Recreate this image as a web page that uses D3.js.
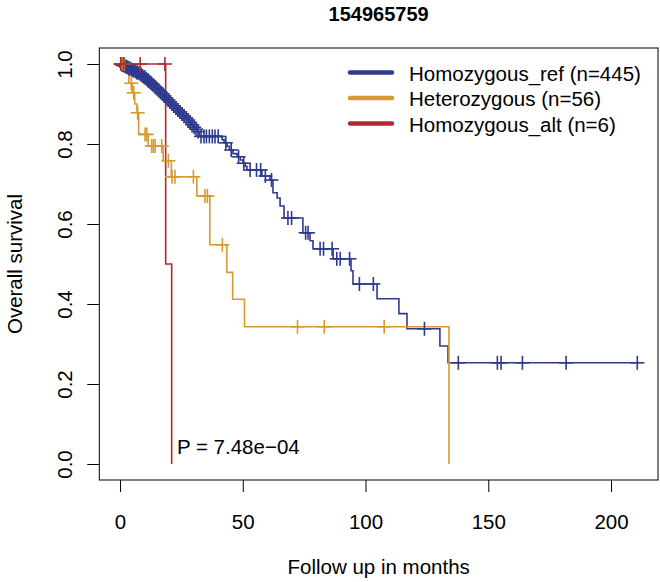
<!DOCTYPE html>
<html>
<head>
<meta charset="utf-8">
<script src="https://cdn.jsdelivr.net/npm/d3@7"></script>
<style>
  html, body { margin: 0; padding: 0; background: #fff; }
  svg { display: block; font-family: "Liberation Sans", Arial, Helvetica, sans-serif; }
</style>
</head>
<body>
<svg id="chart" width="660" height="582"></svg>
<script>
// ---------- DATA ----------
const chartTitle = "154965759";
const groupLabels = ["Homozygous_ref (n=445)", "Heterozygous (n=56)", "Homozygous_alt (n=6)"];
const groupColors = ["#2E3A8C", "#D69A30", "#B22A30"];

// Homozygous_ref: step times (months) and survival after each step
const refTimes = [0, 0.5, 1.2, 2.0, 2.8, 3.5, 4.3, 5.0, 5.8, 6.5, 7.3, 8.0, 8.8, 9.5, 10.3, 11.0, 11.8, 12.5, 13.3, 14.0,
  14.8, 15.5, 16.3, 17.0, 17.8, 18.5, 19.3, 20.0, 20.8, 21.6, 22.4, 23.2, 24.0, 24.8, 25.7, 26.5, 27.3, 28.2, 29.0, 29.8,
  30.6, 31.4, 32.3, 41.6, 42.4, 43.6, 44.6, 46.0, 47.7, 49.0, 50.1, 51.0, 51.7, 57.8, 61.1, 62.3, 64.0, 65.2, 66.8, 74.5,
  77.4, 78.6, 86.8, 94.1, 94.9, 104.7, 113.6, 116.9, 130.3, 133.6];
const refSurv = [1, 0.998, 0.996, 0.993, 0.991, 0.989, 0.987, 0.984, 0.982, 0.979, 0.977, 0.974, 0.970, 0.967, 0.963, 0.959, 0.955, 0.951, 0.947, 0.942,
  0.938, 0.934, 0.929, 0.925, 0.920, 0.915, 0.910, 0.905, 0.900, 0.895, 0.890, 0.885, 0.880, 0.875, 0.870, 0.865, 0.860, 0.854, 0.848, 0.842,
  0.837, 0.831, 0.819, 0.811, 0.803, 0.794, 0.785, 0.776, 0.768, 0.760, 0.752, 0.744, 0.735, 0.720, 0.710, 0.678, 0.665, 0.645, 0.615, 0.578,
  0.558, 0.538, 0.513, 0.483, 0.450, 0.413, 0.376, 0.338, 0.295, 0.253];
const refCensor = [0.3, 0.8, 1.0, 1.5, 1.9, 2.4, 2.7, 3.2, 3.7, 4.0, 4.6, 5.2, 5.6, 6.2, 6.8, 7.1, 7.7, 8.4, 8.6, 9.2,
  9.8, 10.1, 10.7, 11.3, 11.6, 12.2, 12.9, 13.6, 14.4, 15.1, 15.9, 16.6, 17.4, 18.1, 18.9, 19.7, 20.4, 21.2, 22.0, 22.8,
  23.6, 24.4, 25.3, 26.1, 27.0, 27.8, 28.6, 29.4, 30.2, 31.0, 31.8, 33.0, 34.2, 35.2, 36.4, 37.6, 38.7, 40.0, 43.1, 45.3,
  48.3, 50.4, 53.0, 55.6, 57.3, 59.2, 61.7, 68.4, 69.9, 75.6, 76.6, 81.5, 82.9, 86.4, 88.3, 89.7, 93.5, 97.5, 103.2, 124.0,
  137.8, 153.7, 155.2, 163.9, 181.7, 210.7];

// Heterozygous
const hetTimes = [0, 2.6, 3.6, 5.0, 6.0, 6.9, 7.6, 11.5, 17.6, 20.9, 31.3, 36.6, 43.5, 45.9, 50.7, 134.0];
const hetSurv  = [1, 0.982, 0.952, 0.928, 0.900, 0.878, 0.824, 0.795, 0.758, 0.718, 0.670, 0.548, 0.479, 0.412, 0.343, 0];
const hetCensor = [0.8, 1.8, 4.6, 5.6, 7.2, 10.2, 10.9, 12.9, 13.6, 14.3, 17.0, 19.7, 21.2, 22.4, 29.9, 34.6, 35.6, 41.7, 72.3, 83.2, 107.6];

// Homozygous_alt
const altTimes = [0, 18.6, 21.05];
const altSurv  = [1, 0.5, 0];
const altCensor = [0.3, 1.5, 8.2, 18.3];

const xTicks = [0, 50, 100, 150, 200];
const yTicks = [0, 0.2, 0.4, 0.6, 0.8, 1.0];
const xLabel = "Follow up in months";
const yLabel = "Overall survival";
const pText = "P = 7.48e\u221204";
const pPos = [23.2, 0.043];

// ---------- BUILD ----------
const groups = [
  {times: refTimes, surv: refSurv, censor: refCensor},
  {times: hetTimes, surv: hetSurv, censor: hetCensor},
  {times: altTimes, surv: altSurv, censor: altCensor}
];
groups.forEach((g, i) => {
  g.label = groupLabels[i];
  g.color = groupColors[i];
  g.end = Math.max(g.times[g.times.length - 1], d3.max(g.censor));
});
const xMax = d3.max(groups, g => g.end);

const svg = d3.select("#chart");
const W = 660, H = 582;
const box = {left: 99.3, right: 658, top: 48, bottom: 480};

const x = d3.scaleLinear().domain([-0.04 * xMax, 1.04 * xMax]).range([box.left, box.right]);
const y = d3.scaleLinear().domain([-0.04, 1.04]).range([box.bottom, box.top]);

const FS = 20.5;

// title
svg.append("text")
  .attr("x", (box.left + box.right) / 2).attr("y", 21)
  .attr("text-anchor", "middle").attr("font-weight", "bold").attr("font-size", 20)
  .text(chartTitle);

// box
svg.append("rect")
  .attr("x", box.left).attr("y", box.top)
  .attr("width", box.right - box.left).attr("height", box.bottom - box.top)
  .attr("fill", "none").attr("stroke", "#000").attr("stroke-width", 1);

// x axis
const xAxis = svg.append("g")
  .attr("transform", `translate(0,${box.bottom})`)
  .call(d3.axisBottom(x).tickValues(xTicks).tickSize(12).tickPadding(22).tickFormat(d3.format("d")));
xAxis.select(".domain").remove();
xAxis.selectAll("line").attr("stroke", "#000");
xAxis.selectAll("text").attr("font-size", FS).attr("font-family", "Liberation Sans, Arial, sans-serif").attr("fill", "#000");

// y axis (ticks via axis, labels rotated like R)
const yAxis = svg.append("g")
  .attr("transform", `translate(${box.left},0)`)
  .call(d3.axisLeft(y).tickValues(yTicks).tickSize(12).tickFormat(d3.format(".1f")));
yAxis.select(".domain").remove();
yAxis.selectAll("line").attr("stroke", "#000");
yAxis.selectAll("text")
  .attr("x", null).attr("dy", null)
  .attr("text-anchor", "middle")
  .attr("font-size", FS).attr("font-family", "Liberation Sans, Arial, sans-serif").attr("fill", "#000")
  .attr("transform", `translate(${71.7 - box.left},0) rotate(-90)`);

// axis titles
svg.append("text")
  .attr("x", (box.left + box.right) / 2).attr("y", 574)
  .attr("text-anchor", "middle").attr("font-size", FS)
  .text(xLabel);
svg.append("text")
  .attr("transform", `translate(22,${(box.top + box.bottom) / 2}) rotate(-90)`)
  .attr("text-anchor", "middle").attr("font-size", FS)
  .text(yLabel);

// survival at time t (right-continuous step)
function survAt(g, t) {
  let s = 1;
  for (let i = 0; i < g.times.length; i++) { if (g.times[i] <= t) s = g.surv[i]; }
  return s;
}

// curves
const plotG = svg.append("g");
groups.forEach(g => {
  const pts = g.times.map((t, i) => [t, g.surv[i]]);
  const lastS = g.surv[g.surv.length - 1];
  if (g.end > g.times[g.times.length - 1]) pts.push([g.end, lastS]);
  const line = d3.line().x(d => x(d[0])).y(d => y(d[1])).curve(d3.curveStepAfter);
  plotG.append("path")
    .attr("d", line(pts))
    .attr("fill", "none").attr("stroke", g.color).attr("stroke-width", 1.6);
});
// censor marks
const cs = 7;
groups.forEach(g => {
  const cg = plotG.append("g").attr("stroke", g.color).attr("stroke-width", 1.6);
  g.censor.forEach(t => {
    const cx = x(t), cy = y(survAt(g, t));
    cg.append("line").attr("x1", cx - cs).attr("x2", cx + cs).attr("y1", cy).attr("y2", cy);
    cg.append("line").attr("x1", cx).attr("x2", cx).attr("y1", cy - cs).attr("y2", cy + cs);
  });
});

// p-value
svg.append("text")
  .attr("x", x(pPos[0])).attr("y", y(pPos[1]) + 7)
  .attr("font-size", FS)
  .text(pText);

// legend
const legY = [72.5, 98, 123.5];
groups.forEach((g, i) => {
  svg.append("line")
    .attr("x1", 350).attr("x2", 392).attr("y1", legY[i]).attr("y2", legY[i])
    .attr("stroke", g.color).attr("stroke-width", 4.5).attr("stroke-linecap", "round");
  svg.append("text")
    .attr("x", 409).attr("y", legY[i] + 8)
    .attr("font-size", FS)
    .text(g.label);
});
</script>
</body>
</html>
